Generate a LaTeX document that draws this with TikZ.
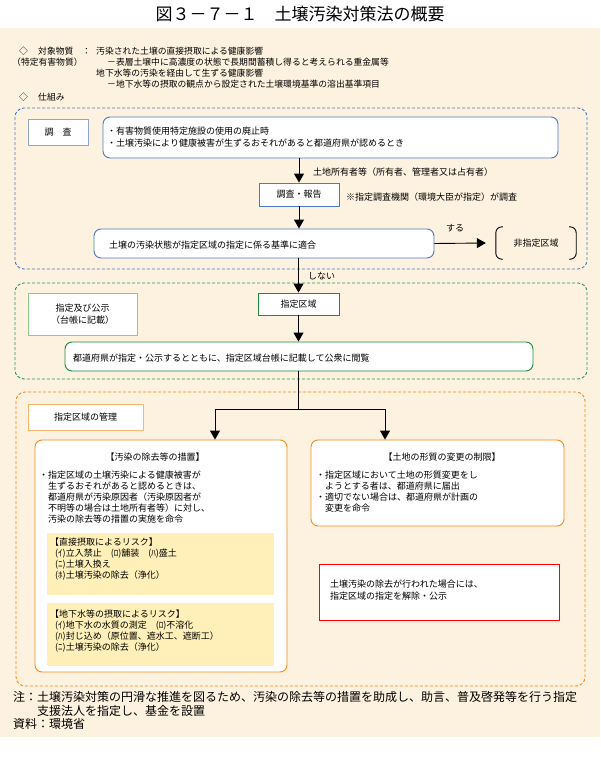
\documentclass[tikz,border=0pt]{standalone}
\usepackage{fontspec}
\setmainfont{Noto Sans CJK JP}
\usetikzlibrary{arrows.meta}
\definecolor{cream}{HTML}{FDF1DF}
\definecolor{bluebd}{HTML}{4A7BC4}
\definecolor{bluelt}{HTML}{8EA4CC}
\definecolor{greenbd}{HTML}{1E8C3C}
\definecolor{greenlt}{HTML}{8DCB8D}
\definecolor{greendash}{HTML}{2A9A48}
\definecolor{orangebd}{HTML}{F28C1C}
\definecolor{orangelt}{HTML}{F6B66C}
\definecolor{yellowbg}{HTML}{FFF0B9}
\definecolor{redbd}{HTML}{FF0000}
\begin{document}
\begin{tikzpicture}[x=1pt,y=-1pt,
  t/.style={inner sep=0pt,anchor=west,align=left,font=\fontsize{9}{11.5}\selectfont},
  tt/.style={inner sep=0pt,anchor=west,font=\fontsize{8.8}{10}\selectfont},
  box/.style={draw,line width=0.9pt,fill=white,inner sep=0pt,font=\fontsize{9}{12}\selectfont,align=center},
  rbox/.style={box,rounded corners=7pt},
  dashbox/.style={line width=0.9pt,dash pattern=on 3pt off 2pt,rounded corners=9pt},
  arr/.style={line width=0.9pt,-{Triangle[width=10pt,length=9pt]}},
  ln/.style={line width=0.9pt},
]
\useasboundingbox (0,0) rectangle (600,760);
\fill[white] (0,0) rectangle (600,760);
\fill[cream] (0,28) rectangle (600,737);

% title
\node[inner sep=0pt,font=\fontsize{17}{20}\selectfont] (title) at (300,14) {図３－７－１　土壌汚染対策法の概要};

% header text
\node[tt] (s1) at (19,51) {◇};
\node[tt] (s2) at (38,51) {対象物質};
\node[tt] (s3) at (82,51) {：};
\node[tt] (s4) at (96,51) {汚染された土壌の直接摂取による健康影響};
\node[tt] (s5) at (12,62) {（特定有害物質）};
\node[tt] (s6) at (107,62) {－表層土壌中に高濃度の状態で長期間蓄積し得ると考えられる重金属等};
\node[tt] (s7) at (96,73) {地下水等の汚染を経由して生ずる健康影響};
\node[tt] (s8) at (107,84) {－地下水等の摂取の観点から設定された土壌環境基準の溶出基準項目};
\node[tt] (s9) at (19,97) {◇};
\node[tt] (s10) at (38,97) {仕組み};

% ===== blue section
\draw[dashbox,draw=bluebd] (15,108) rectangle (587,269);
\node[box,draw=bluelt,minimum width=60pt,minimum height=26pt] (chosa) at (58,132) {調　査};
\node[rbox,draw=bluebd,minimum width=455pt,minimum height=41pt] (b1) at (330.5,137.5) {};
\node[t,font=\fontsize{9}{12}\selectfont] (b1t) at (107,137) {・有害物質使用特定施設の使用の廃止時\\・土壌汚染により健康被害が生ずるおそれがあると都道府県が認めるとき};
\node[box,draw=bluebd,minimum width=80pt,minimum height=23pt] (rep) at (299,194.5) {調査・報告};
\node[t] (lbl1) at (313,172) {土地所有者等（所有者、管理者又は占有者）};
\node[t] (lbl2) at (346,197) {※指定調査機関（環境大臣が指定）が調査};
\node[rbox,draw=bluebd,minimum width=340pt,minimum height=29pt] (cond) at (264,243.5) {};
\node[t] (condt) at (109,245) {土壌の汚染状態が指定区域の指定に係る基準に適合};
\node[t] (suru) at (446,228) {する};
\node[inner sep=0pt,minimum width=80pt,minimum height=32pt,font=\fontsize{9}{12}\selectfont] (nz) at (536,243) {非指定区域};
\draw[ln,rounded corners=6pt] ([xshift=7pt]nz.north west) -- (nz.north west) -- (nz.south west) -- ([xshift=7pt]nz.south west);
\draw[ln,rounded corners=6pt] ([xshift=-7pt]nz.north east) -- (nz.north east) -- (nz.south east) -- ([xshift=-7pt]nz.south east);
\node[t] (shinai) at (308,276) {しない};

% ===== green section
\draw[dashbox,draw=greendash] (15,283) rectangle (587,379);
\node[box,draw=greenlt,minimum width=109pt,minimum height=42pt] (pubinfo) at (82.5,314) {指定及び公示\\（台帳に記載）};
\node[box,draw=greenbd,minimum width=81pt,minimum height=22pt] (zone) at (298.5,304) {指定区域};
\node[rbox,draw=greenbd,minimum width=468pt,minimum height=29pt] (pub) at (299,356.5) {};
\node[t] (pubt) at (73,358) {都道府県が指定・公示するとともに、指定区域台帳に記載して公衆に閲覧};

% ===== orange section
\draw[dashbox,draw=orangebd] (16,392) rectangle (585,686);
\node[box,draw=orangelt,minimum width=115pt,minimum height=26pt] (mgmt) at (85.5,417) {指定区域の管理};
\node[rbox,draw=orangebd,minimum width=252pt,minimum height=232pt] (rm) at (161,556) {};
\node[inner sep=0pt,font=\fontsize{9}{12}\selectfont] (rmtitle) at (155,457) {【汚染の除去等の措置】};
\node[t,font=\fontsize{9}{11.1}\selectfont] (rmt) at (39,497) {・指定区域の土壌汚染による健康被害が\\　生ずるおそれがあると認めるときは、\\　都道府県が汚染原因者（汚染原因者が\\　不明等の場合は土地所有者等）に対し、\\　汚染の除去等の措置の実施を命令};
\node[fill=yellowbg,inner sep=0pt,minimum width=227pt,minimum height=62pt] (y1) at (160.5,564) {};
\node[t,font=\fontsize{9}{10.8}\selectfont] (y1t) at (50,559) {【直接摂取によるリスク】\\\hspace*{5pt}(ｲ)立入禁止　(ﾛ)舗装　(ﾊ)盛土\\\hspace*{5pt}(ﾆ)土壌入換え\\\hspace*{5pt}(ﾎ)土壌汚染の除去（浄化）};
\node[fill=yellowbg,inner sep=0pt,minimum width=227pt,minimum height=63pt] (y2) at (160.5,634.5) {};
\node[t,font=\fontsize{9}{11}\selectfont] (y2t) at (50,631.5) {【地下水等の摂取によるリスク】\\\hspace*{5pt}(ｲ)地下水の水質の測定　(ﾛ)不溶化\\\hspace*{5pt}(ﾊ)封じ込め（原位置、遮水工、遮断工）\\\hspace*{5pt}(ﾆ)土壌汚染の除去（浄化）};

\node[rbox,draw=orangebd,minimum width=253pt,minimum height=86pt] (rt) at (437.5,483) {};
\node[inner sep=0pt,font=\fontsize{9}{12}\selectfont] (rttitle) at (442,457) {【土地の形質の変更の制限】};
\node[t,font=\fontsize{9}{11}\selectfont] (rtt) at (316,491.5) {・指定区域において土地の形質変更をし\\　ようとする者は、都道府県に届出\\・適切でない場合は、都道府県が計画の\\　変更を命令};

\node[box,draw=redbd,minimum width=240pt,minimum height=56pt] (red) at (439,592) {};
\node[t,font=\fontsize{9}{12}\selectfont] (redt) at (330,590) {土壌汚染の除去が行われた場合には、\\指定区域の指定を解除・公示};

% footnote
\node[t,font=\fontsize{12}{13.5}\selectfont] (foot) at (13,710.5) {注：土壌汚染対策の円滑な推進を図るため、汚染の除去等の措置を助成し、助言、普及啓発等を行う指定\\　　支援法人を指定し、基金を設置\\資料：環境省};

% ===== connectors
\draw[arr] (rep.north |- b1.south) -- (rep.north);
\draw[arr] (rep.south) -- (rep.south |- cond.north);
\draw[arr] (cond.east) -- ([xshift=-10pt]nz.west);
\draw[arr] (cond.south -| zone.north) -- (zone.north);
\draw[arr] (zone.south) -- (zone.south |- pub.north);
\coordinate (split) at (298.5,409);
\coordinate (cL) at (215,409);
\coordinate (cR) at (385,409);
\draw[ln] (zone.south |- pub.south) -- (split);
\draw[arr] (split) -- (cL) -- (cL |- rm.north);
\draw[arr] (split) -- (cR) -- (cR |- rt.north);
\end{tikzpicture}
\end{document}
